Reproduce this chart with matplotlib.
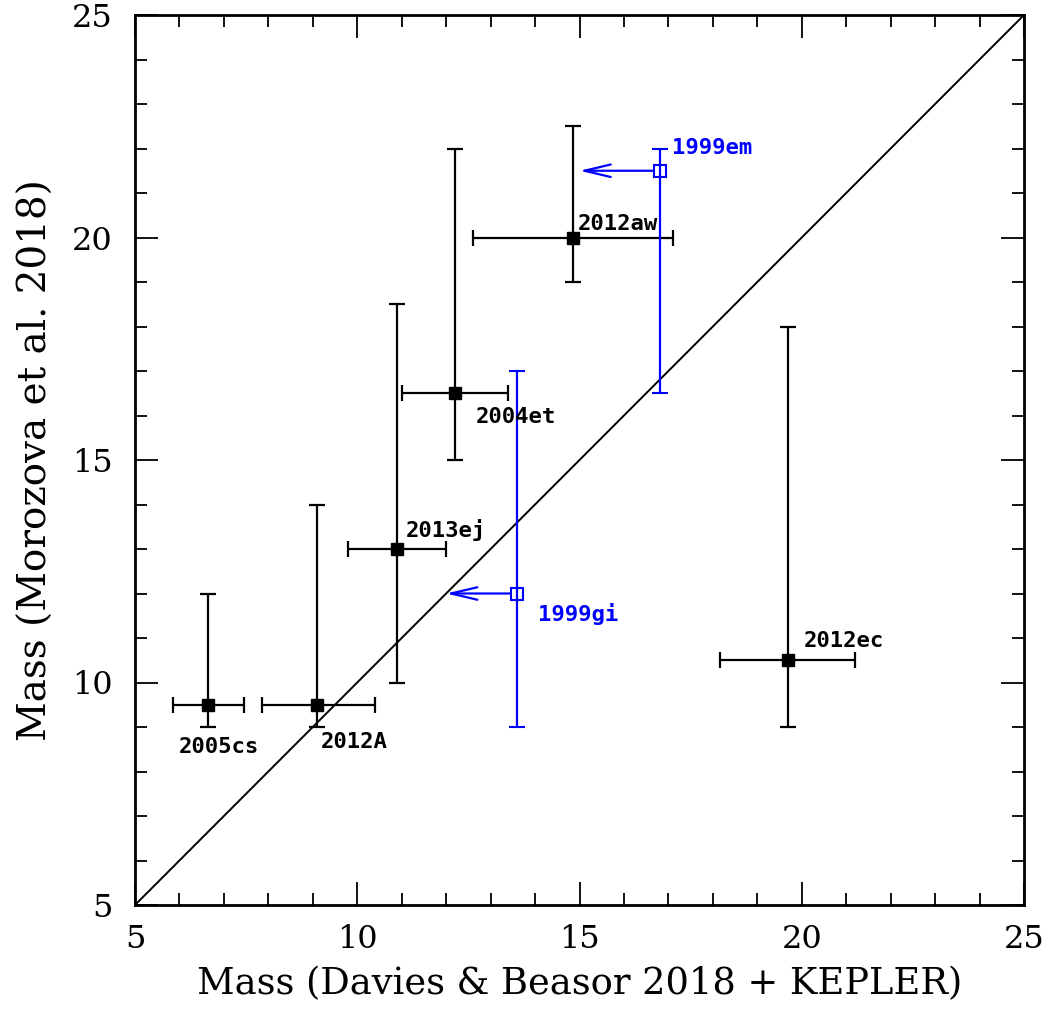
import matplotlib
matplotlib.use("Agg")
import matplotlib.pyplot as plt
from matplotlib.ticker import MultipleLocator

# Black points (Davies & Beasor + KEPLER vs Morozova)
names = ["2005cs", "2012A", "2013ej", "2004et", "2012aw", "2012ec"]
x_vals = [6.65, 9.1, 10.9, 12.2, 14.85, 19.7]
x_lo = [5.85, 7.85, 9.8, 11.0, 12.6, 18.15]
x_hi = [7.45, 10.4, 12.0, 13.4, 17.1, 21.2]
y_vals = [9.5, 9.5, 13.0, 16.5, 20.0, 10.5]
y_lo = [9.0, 9.0, 10.0, 15.0, 19.0, 9.0]
y_hi = [12.0, 14.0, 18.5, 22.0, 22.5, 18.0]

# Blue upper limits
blue_names = ["1999em", "1999gi"]
bx_vals = [16.8, 13.6]
bx_arrow_to = [15.0, 12.0]
by_vals = [21.5, 12.0]
by_lo = [16.5, 9.0]
by_hi = [22.0, 17.0]

fig = plt.figure(figsize=(10.52, 10.10), dpi=100)
ax = fig.add_axes([135/1052, 105/1010, 889/1052, 890/1010])
ax.set_xlim(5, 25)
ax.set_ylim(5, 25)

ax.plot([5, 25], [5, 25], color="black", lw=1.4, zorder=1)

for i in range(len(names)):
    ax.errorbar([x_vals[i]], [y_vals[i]],
                xerr=[[x_vals[i]-x_lo[i]], [x_hi[i]-x_vals[i]]],
                yerr=[[y_vals[i]-y_lo[i]], [y_hi[i]-y_vals[i]]],
                fmt="s", color="black", ms=9, mec="black", mfc="black",
                elinewidth=1.6, capsize=6, capthick=1.6, zorder=3)

for i in range(len(blue_names)):
    ax.errorbar([bx_vals[i]], [by_vals[i]],
                yerr=[[by_vals[i]-by_lo[i]], [by_hi[i]-by_vals[i]]],
                fmt="s", color="blue", ms=9, mfc="none", mec="blue", mew=1.5,
                elinewidth=1.6, capsize=6, capthick=1.6, zorder=3)
    ax.annotate("", xy=(bx_arrow_to[i], by_vals[i]), xytext=(bx_vals[i]-0.15, by_vals[i]),
                arrowprops=dict(arrowstyle="->,head_length=1.9,head_width=0.45",
                                color="blue", lw=1.6, shrinkA=0, shrinkB=0), zorder=2)

lab_font = dict(family="DejaVu Sans Mono", fontsize=16, fontweight="semibold")
offsets = {
    "2005cs": (-0.67, -0.94),
    "2012A": (0.07, -0.84),
    "2013ej": (0.18, 0.42),
    "2004et": (0.47, -0.54),
    "2012aw": (0.11, 0.31),
    "2012ec": (0.34, 0.43),
}
for i, n in enumerate(names):
    dx, dy = offsets[n]
    ax.text(x_vals[i]+dx, y_vals[i]+dy, n, ha="left", va="center", color="black", **lab_font)

ax.text(bx_vals[0]+0.27, by_vals[0]+0.52, blue_names[0], ha="left", va="center", color="blue", **lab_font)
ax.text(bx_vals[1]+0.47, by_vals[1]-0.47, blue_names[1], ha="left", va="center", color="blue", **lab_font)

ax.xaxis.set_major_locator(MultipleLocator(5))
ax.yaxis.set_major_locator(MultipleLocator(5))
ax.xaxis.set_minor_locator(MultipleLocator(1))
ax.yaxis.set_minor_locator(MultipleLocator(1))
ax.tick_params(which="both", direction="in", top=True, right=True, width=1.3, colors="black")
ax.tick_params(which="major", length=16.5, labelsize=23)
ax.tick_params(axis="x", which="major", pad=14)
ax.tick_params(axis="y", which="major", pad=16)
ax.tick_params(which="minor", length=8.5)
for lbl in ax.get_xticklabels() + ax.get_yticklabels():
    lbl.set_family("DejaVu Serif")
for s in ax.spines.values():
    s.set_linewidth(2)

ax.set_xlabel("Mass (Davies & Beasor 2018 + KEPLER)", family="DejaVu Serif", fontsize=26.5, labelpad=8)
ax.set_ylabel("Mass (Morozova et al. 2018)", family="DejaVu Serif", fontsize=28, labelpad=12)

fig.savefig("out.png", dpi=100)
